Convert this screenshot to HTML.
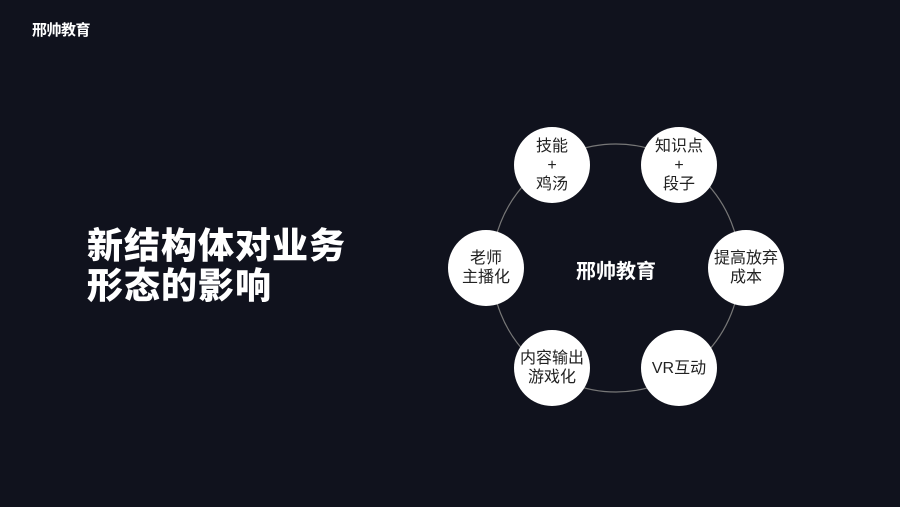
<!DOCTYPE html>
<html><head><meta charset="utf-8"><style>
body{margin:0;width:900px;height:507px;background:#10121d;position:relative;overflow:hidden;font-family:"Liberation Sans","Noto Sans CJK SC",sans-serif;color:#fff}
.logo{position:absolute;left:32px;top:19px;font-size:15px;font-weight:bold;letter-spacing:-0.5px}
.title{position:absolute;left:87px;top:226px;font-size:36px;font-weight:900;line-height:40px;letter-spacing:1px}
.c{position:absolute;width:76px;height:76px;border-radius:50%;background:#fff;color:#222;display:flex;align-items:center;justify-content:center;text-align:center;font-size:16px;line-height:19px}
.center{position:absolute;left:576px;top:255px;font-size:20px;font-weight:bold}
</style></head><body>
<div class="logo">邢帅教育</div>
<div class="title">新结构体对业务<br>形态的影响</div>
<svg width="900" height="507" style="position:absolute;left:0;top:0"><circle cx="616" cy="268" r="124" fill="none" stroke="#777" stroke-width="1.2"/></svg>
<div class="center">邢帅教育</div>
<div class="c" style="left:514px;top:127px">技能<br>+<br>鸡汤</div>
<div class="c" style="left:641px;top:127px">知识点<br>+<br>段子</div>
<div class="c" style="left:708px;top:230px">提高放弃<br>成本</div>
<div class="c" style="left:641px;top:330px">VR互动</div>
<div class="c" style="left:514px;top:330px">内容输出<br>游戏化</div>
<div class="c" style="left:448px;top:230px">老师<br>主播化</div>
</body></html>
